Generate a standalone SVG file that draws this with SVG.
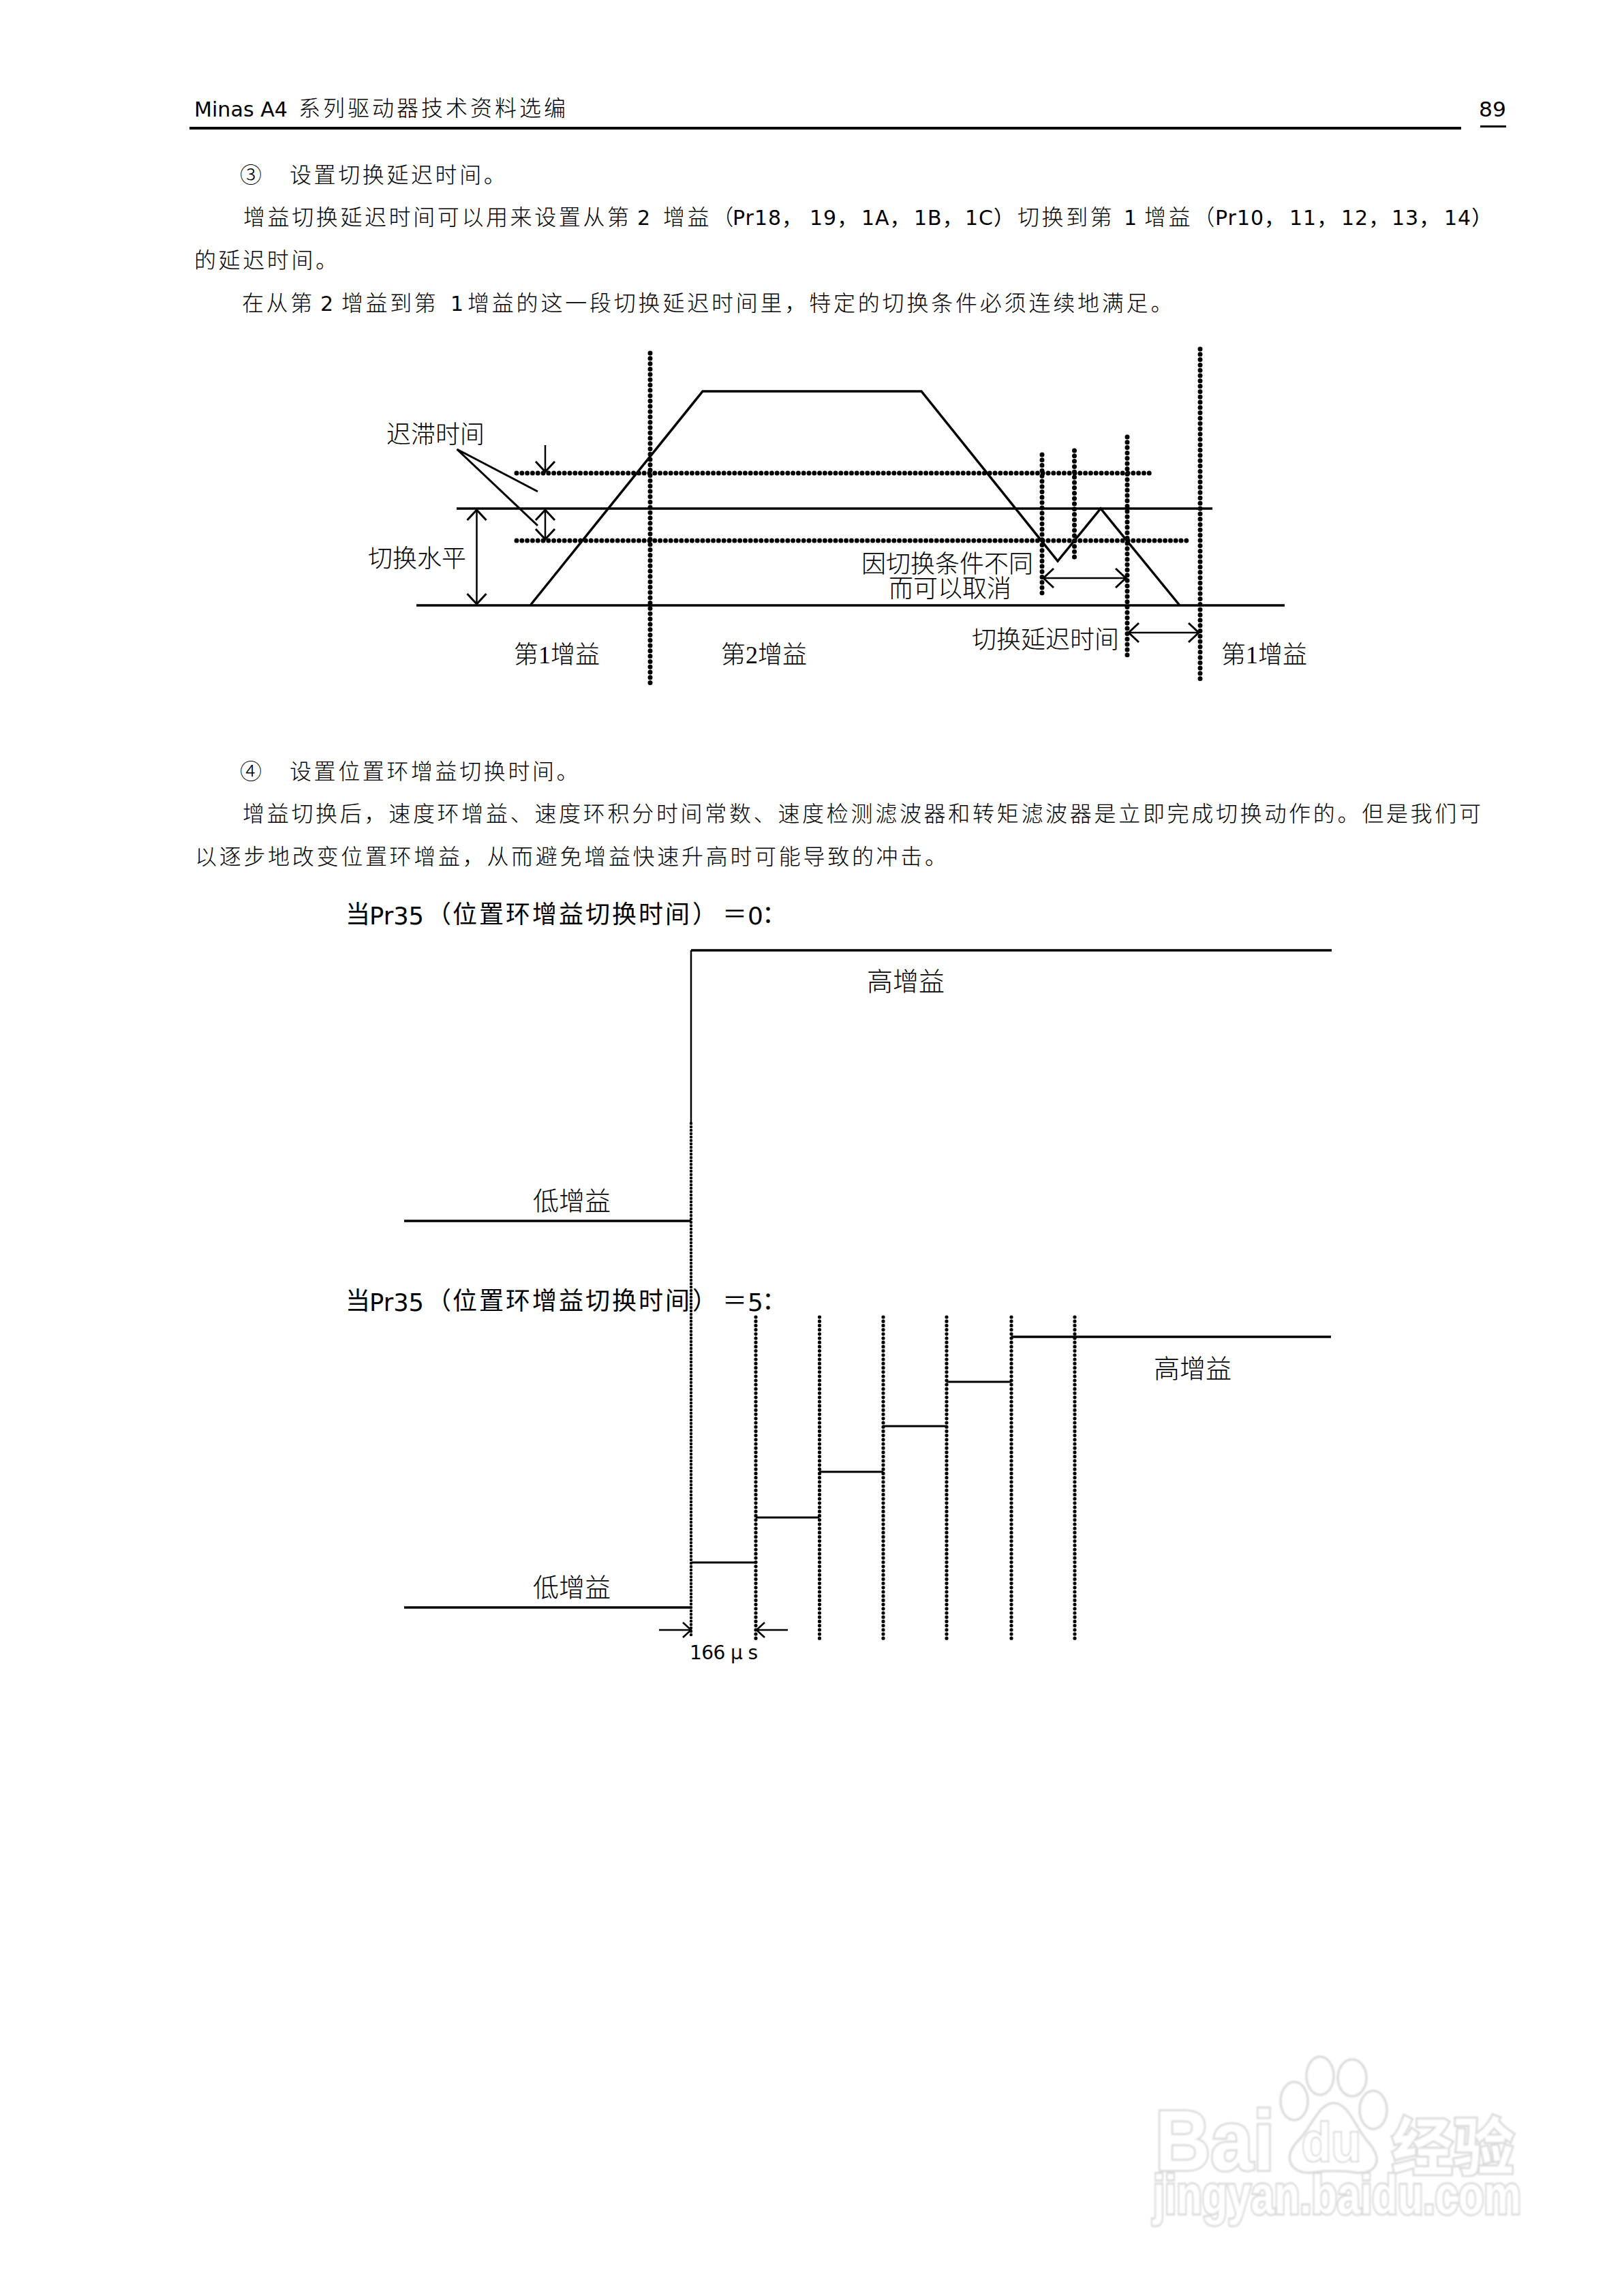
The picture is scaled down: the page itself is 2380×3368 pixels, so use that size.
<svg xmlns="http://www.w3.org/2000/svg" width="2380" height="3368" viewBox="0 0 2380 3368">
<style>
text{fill:#000;font-family:"Liberation Serif","Noto Sans CJK SC",serif}
.b{font-family:"DejaVu Sans","Noto Sans CJK SC",sans-serif;font-size:31px}
.c{font-family:"Noto Sans CJK SC",sans-serif;font-size:32px;font-weight:300;letter-spacing:3.6px}
.n{font-family:"DejaVu Sans","Noto Sans CJK SC",sans-serif;font-size:30px;letter-spacing:1px}
.t{font-family:"DejaVu Sans","Noto Sans CJK SC",sans-serif;font-size:36px}
.l{font-size:36px;font-family:"Liberation Serif","Noto Sans CJK SC",serif;font-weight:300}
.m{font-size:38px;font-family:"Liberation Serif","Noto Sans CJK SC",serif;font-weight:300}
.ln{fill:none;stroke:#000;stroke-width:3.5}
.th{fill:none;stroke:#000;stroke-width:3}
.dot{fill:none;stroke:#000;stroke-width:7;stroke-linecap:round;stroke-dasharray:0 7.8}
.dot2{fill:none;stroke:#000;stroke-width:5.2;stroke-linecap:round;stroke-dasharray:0 6.2}
.ar{fill:none;stroke:#000;stroke-width:2.5;marker-start:url(#h);marker-end:url(#h)}
.ae{fill:none;stroke:#000;stroke-width:2.5;marker-end:url(#h)}
.as{fill:none;stroke:#000;stroke-width:2.5;marker-end:url(#s)}
.wm{fill:#fff;stroke:#dcdcdc;stroke-width:6;paint-order:stroke;font-family:"Liberation Sans","Noto Sans CJK SC",sans-serif;font-weight:700}
.wp{fill:#fff;stroke:#dcdcdc;stroke-width:3.5}
</style>
<defs>
<marker id="h" markerUnits="userSpaceOnUse" markerWidth="40" markerHeight="40" refX="20" refY="20" orient="auto-start-reverse"><path d="M5 6L20 20L5 34" fill="none" stroke="#000" stroke-width="3"/></marker>
<marker id="s" markerUnits="userSpaceOnUse" markerWidth="30" markerHeight="30" refX="15" refY="15" orient="auto"><path d="M3 4L15 15L3 26" fill="none" stroke="#000" stroke-width="2.5"/></marker>
<filter id="soft" x="-5%" y="-5%" width="110%" height="110%"><feGaussianBlur stdDeviation="0.9"/></filter>
</defs>
<rect width="2380" height="3368" fill="#fff"/>

<g id="header">
<text class="b" x="285" y="171" style="font-size:30px" textLength="137" lengthAdjust="spacingAndGlyphs">Minas A4</text>
<text class="c" x="438" y="170" style="letter-spacing:4px">系列驱动器技术资料选编</text>
<text class="b" x="2170" y="171" textLength="40" lengthAdjust="spacingAndGlyphs">89</text>
<rect x="278" y="186" width="1866" height="4"/>
<rect x="2172" y="184" width="38" height="3"/>
</g>

<g id="para3">
<text class="c" x="352" y="268">③</text>
<text class="c" x="425" y="268">设置切换延迟时间。</text>
<text class="c" x="357" y="330">增益切换延迟时间可以用来设置从第</text>
<text class="n" x="935" y="330">2</text>
<text class="c" x="973" y="330">增益（</text>
<text class="n" x="1075" y="330">Pr18，</text>
<text class="n" x="1188" y="330">19，</text>
<text class="n" x="1264" y="330">1A，</text>
<text class="n" x="1341" y="330">1B，</text>
<text class="n" x="1416" y="330">1C）</text>
<text class="c" x="1493" y="330">切换到第</text>
<text class="n" x="1649" y="330">1</text>
<text class="c" x="1679" y="330">增益（</text>
<text class="n" x="1783" y="330">Pr10，</text>
<text class="n" x="1892" y="330">11，</text>
<text class="n" x="1968" y="330">12，</text>
<text class="n" x="2042" y="330">13，</text>
<text class="n" x="2119" y="330">14）</text>
<text class="c" x="285" y="393">的延迟时间。</text>
<text class="c" x="355" y="456">在从第</text>
<text class="n" x="470" y="456">2</text>
<text class="c" x="501" y="456">增益到第</text>
<text class="n" x="661" y="456">1</text>
<text class="c" x="686" y="456" style="letter-spacing:3.800px">增益的这一段切换延迟时间里，特定的切换条件必须连续地满足。</text>
</g>

<g id="para4">
<text class="c" x="352" y="1143">④</text>
<text class="c" x="425" y="1143">设置位置环增益切换时间。</text>
<text class="c" x="356" y="1205" style="letter-spacing:3.700px">增益切换后，速度环增益、速度环积分时间常数、速度检测滤波器和转矩滤波器是立即完成切换动作的。但是我们可</text>
<text class="c" x="286" y="1268" style="letter-spacing:3.700px">以逐步地改变位置环增益，从而避免增益快速升高时可能导致的冲击。</text>
</g>

<g id="connectors">
<path class="ln" d="M778 888L1031 574H1352L1552 823L1615 746L1731 888"/>
<path class="ln" d="M670 746H1779M611 888H1885"/>
<path class="dot" d="M758 694H1691M758 793H1748"/>
<path class="dot" d="M954 518V1003M1529 667V873M1576.500 661V822M1654 641V964M1761 512V998"/>
<path class="ar" d="M699.500 748V886"/>
<path class="ar" d="M800 748V791"/>
<path class="ae" d="M800 653V692"/>
<path class="th" d="M670.500 659L789 721M670.500 659L789 771"/>
<path class="ar" d="M1531 848H1652"/>
<path class="ar" d="M1656 928H1759"/>

<path d="M1014 1394V1648" fill="none" stroke="#000" stroke-width="2.500"/>
<path class="ln" d="M1014 1394H1954M593 1791H1014"/>
<path d="M1014 1648V2402" class="dot2" style="stroke-width:4.500;stroke-dasharray:0 5"/>
<path class="dot2" d="M1109 1932V2406M1202.500 1932V2406M1296 1932V2406M1389 1932V2406M1484 1932V2406M1577 1932V2406"/>
<path class="ln" d="M593 2358H1014"/>
<path class="th" d="M1015 2292H1109M1109 2226H1202M1202 2159H1296M1296 2092H1389M1389 2027H1484"/>
<path class="ln" d="M1484 1961H1953"/>
<path class="as" d="M967 2391H1014"/>
<path class="as" d="M1156 2391H1110"/>
</g>

<g id="labels-top">
<text class="l" x="567" y="650">迟滞时间</text>
<text class="l" x="540" y="832">切换水平</text>
<text class="l" x="754" y="973">第1增益</text>
<text class="l" x="1058" y="973">第2增益</text>
<text class="l" x="1264" y="840">因切换条件不同</text>
<text class="l" x="1304" y="876">而可以取消</text>
<text class="l" x="1426" y="951">切换延迟时间</text>
<text class="l" x="1792" y="973">第1增益</text>
</g>

<g id="labels-bottom">
<text class="t" x="507" y="1354">当</text>
<text class="t" x="542" y="1356" textLength="80" lengthAdjust="spacingAndGlyphs">Pr35</text>
<text class="t" x="626" y="1354">（</text>
<text class="t" x="664" y="1354" style="letter-spacing:3px">位置环增益切换时间</text>
<text class="t" x="1016" y="1354">）</text>
<text class="t" x="1060" y="1354">＝</text>
<text class="t" x="1097" y="1356">0</text>
<text class="t" x="1118" y="1354">：</text>
<text class="t" x="507" y="1921">当</text>
<text class="t" x="542" y="1923" textLength="80" lengthAdjust="spacingAndGlyphs">Pr35</text>
<text class="t" x="626" y="1921">（</text>
<text class="t" x="664" y="1921" style="letter-spacing:3px">位置环增益切换时间</text>
<text class="t" x="1016" y="1921">）</text>
<text class="t" x="1060" y="1921">＝</text>
<text class="t" x="1097" y="1923">5</text>
<text class="t" x="1118" y="1921">：</text>
<text class="m" x="1272" y="1453">高增益</text>
<text class="m" x="782" y="1775">低增益</text>
<text class="m" x="1693" y="2021">高增益</text>
<text class="m" x="782" y="2342">低增益</text>
<text class="b" x="1012" y="2434" style="font-size:28px" textLength="100">166 μ s</text>
</g>

<g id="watermark" filter="url(#soft)">
<ellipse class="wp" cx="1899" cy="3082" rx="20" ry="28"/>
<ellipse class="wp" cx="1937" cy="3045" rx="20" ry="28"/>
<ellipse class="wp" cx="1984" cy="3048" rx="21" ry="27"/>
<ellipse class="wp" cx="2015" cy="3095" rx="20" ry="28"/>
<path class="wp" d="M1957 3085C1980 3085 1990 3125 2010 3145C2030 3170 2018 3190 1990 3187C1970 3184 1945 3184 1925 3187C1895 3190 1880 3165 1905 3140C1925 3120 1935 3085 1957 3085Z"/>
<text class="wm" x="1695" y="3183" style="font-size:125px" textLength="175" lengthAdjust="spacingAndGlyphs">Bai</text>
<text class="wm" x="1910" y="3170" style="font-size:80px;stroke:#c8c8c8;stroke-width:3" textLength="87" lengthAdjust="spacingAndGlyphs">du</text>
<text class="wm" x="2042" y="3183" style="font-size:92px" textLength="180" lengthAdjust="spacingAndGlyphs">经验</text>
<text class="wm" x="1692" y="3247" style="font-size:80px" textLength="540" lengthAdjust="spacingAndGlyphs">jingyan.baidu.com</text>
</g>
</svg>
